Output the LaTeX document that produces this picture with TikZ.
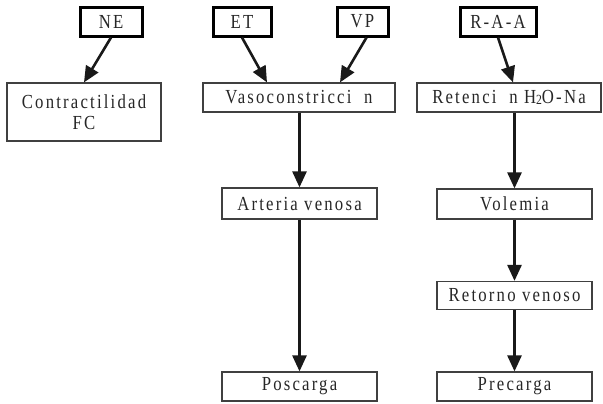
\documentclass[tikz,border=0pt]{standalone}
\usepackage{fontspec}
\setmainfont[FakeStretch=0.84,LetterSpace=11]{Liberation Serif}
\usetikzlibrary{arrows.meta}
\begin{document}
\begin{tikzpicture}[x=1bp,y=-1bp,
  every node/.style={font=\fontsize{20}{21}\selectfont, text=black!85, inner sep=0pt, align=center},
  cause/.style={draw=black, line width=3bp, minimum height=29bp},
  effect/.style={draw=black!75, line width=1.2bp, minimum height=29bp},
  link/.style={draw=black!90, line width=2.6bp, -{Triangle[length=16bp,width=14bp]}}]
\useasboundingbox (0,0) rectangle (603,403);

% upstream factors
\node[cause, minimum width=62bp] (ne)  at (111,21.5) {NE};
\node[cause, minimum width=58bp] (et)  at (242,21.5) {ET};
\node[cause, minimum width=51bp] (vp)  at (362.5,21.5) {VP};
\node[cause, minimum width=76bp] (raa) at (498,21.5) {R-A-A};

% effects
\node[effect, minimum width=154bp, minimum height=58bp] (contr) at (84,112) {Contractilidad\\FC};
\node[effect, minimum width=192bp] (vaso) at (299,97.5) {Vasoconstricci~ n};
\node[effect, minimum width=184bp] (ret)  at (509,97.5) {Retenci~ n H\raisebox{-0.5pt}{\fontsize{14}{14}\selectfont 2}O-Na};
\node[effect, minimum width=155bp, minimum height=31bp] (art) at (299.5,203.5) {Arteria venosa};
\node[effect, minimum width=155bp] (pos) at (299.5,386.5) {Poscarga};
\node[effect, minimum width=155bp, minimum height=30bp] (vol) at (514.5,204) {Volemia};
\node[effect, minimum width=155bp, minimum height=28bp] (rv)  at (514.5,295.5) {Retorno venoso};
\node[effect, minimum width=155bp] (pre) at (514.5,386.5) {Precarga};

% connectors
\draw[link] (ne.south) -- (contr.north);
\draw[link] (et.south) -- ([xshift=-32bp]vaso.north);
\draw[link] ([xshift=4bp]vp.south) -- ([xshift=41bp]vaso.north);
\draw[link] (raa.south) -- ([xshift=4bp]ret.north);
\draw[link] (vaso.south -| art.north) -- (art.north);
\draw[link] (art.south) -- (pos.north);
\draw[link] (ret.south -| vol.north) -- (vol.north);
\draw[link] (vol.south) -- (rv.north);
\draw[link] (rv.south) -- (pre.north);
\end{tikzpicture}
\end{document}
